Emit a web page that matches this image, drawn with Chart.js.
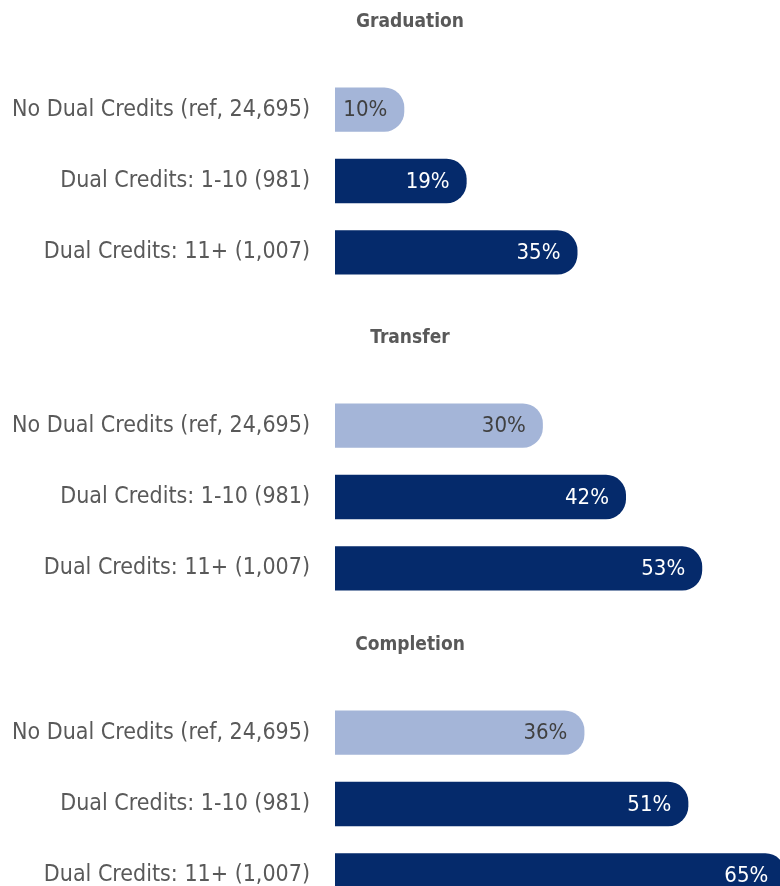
<!DOCTYPE html>
<html>
<head>
<meta charset="utf-8">
<script src="https://cdn.jsdelivr.net/npm/chart.js@4.4.1/dist/chart.umd.min.js"></script>
<style>
  html, body { margin: 0; padding: 0; background: #fff; }
  #wrap { position: relative; width: 780px; height: 886px; overflow: hidden; }
  .panel { position: absolute; left: 0; width: 820px; height: 327px; }
</style>
</head>
<body>
<div id="wrap">
  <div class="panel" style="top:0px"><canvas id="c0"></canvas></div>
  <div class="panel" style="top:316px"><canvas id="c1"></canvas></div>
  <div class="panel" style="top:623px"><canvas id="c2"></canvas></div>
</div>
<script>
const categories = ["No Dual Credits (ref, 24,695)", "Dual Credits: 1-10 (981)", "Dual Credits: 11+ (1,007)"];
const panelTitles = ["Graduation", "Transfer", "Completion"];
const graduation = [10, 19, 35];
const transfer = [30, 42, 53];
const completion = [36, 51, 65];

const FONT = "'Liberation Sans Narrow', 'DejaVu Sans Condensed', 'Liberation Sans', sans-serif";
const LIGHT = "#a4b5d8";
const NAVY = "#052a6b";

// percentage text drawn inside the end of each bar
const barLabels = {
    id: "barLabels",
    afterDatasetsDraw(chart) {
        let ctx = chart.ctx;
        let ds = chart.data.datasets[0];
        chart.getDatasetMeta(0).data.forEach((bar, i) => {
            ctx.save();
            ctx.font = "22px " + FONT;
            ctx.fillStyle = i === 0 ? "#404040" : "#ffffff";
            ctx.textAlign = "right";
            ctx.textBaseline = "middle";
            ctx.fillText(ds.data[i] + "%", bar.x - 17, bar.y + 1);
            ctx.restore();
        });
    }
};

function makeChart(id, title, values) {
    new Chart(document.getElementById(id), {
        type: "bar",
        data: {
            labels: categories,
            datasets: [{
                data: values,
                backgroundColor: [LIGHT, NAVY, NAVY],
                borderRadius: { topRight: 20, bottomRight: 20, topLeft: 0, bottomLeft: 0 },
                borderSkipped: false,
                categoryPercentage: 1,
                barPercentage: 0.62
            }]
        },
        options: {
            indexAxis: "y",
            responsive: true,
            maintainAspectRatio: false,
            animation: false,
            layout: { padding: { left: 0, right: 0, top: 0, bottom: 11 } },
            plugins: {
                legend: { display: false },
                tooltip: { enabled: false },
                title: {
                    display: true,
                    text: title,
                    color: "#595959",
                    font: { family: FONT, size: 19, weight: "bold" },
                    padding: { top: 11, bottom: 40 }
                }
            },
            scales: {
                x: { display: false, min: 0, max: 70 },
                y: {
                    grid: { display: false, drawTicks: false },
                    border: { display: false },
                    ticks: { color: "#595959", font: { family: FONT, size: 23 }, padding: 25 },
                    afterFit(scale) { scale.width = 335; }
                }
            }
        },
        plugins: [barLabels]
    });
}

makeChart("c0", panelTitles[0], graduation);
makeChart("c1", panelTitles[1], transfer);
makeChart("c2", panelTitles[2], completion);
</script>
</body>
</html>
